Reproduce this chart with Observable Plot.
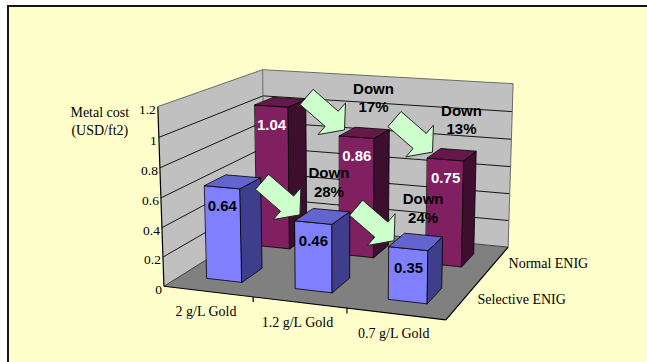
<!DOCTYPE html>
<html>
<head>
<meta charset="utf-8">
<script src="https://cdn.jsdelivr.net/npm/d3@7"></script>
<script src="https://cdn.jsdelivr.net/npm/@observablehq/plot@0.6"></script>
<style>
  html, body { margin: 0; padding: 0; background: #ffffff; }
  #stage { position: relative; width: 647px; height: 362px; overflow: hidden; }
  #panel { position: absolute; left: 7px; top: 5px; width: 700px; height: 420px;
           background: #FFFFCC; border: 2px solid #161616; box-sizing: border-box; }
  #chart { position: absolute; left: 0; top: 0; }
</style>
</head>
<body>
<div id="stage"><div id="panel"></div><div id="chart"></div></div>
<script>
// ---- data -------------------------------------------------------------
const categories = ["2 g/L Gold", "1.2 g/L Gold", "0.7 g/L Gold"];
const seriesNames = ["Selective ENIG", "Normal ENIG"];   // front row, back row
const selectiveENIG = [0.64, 0.46, 0.35];
const normalENIG = [1.04, 0.86, 0.75];
const valueTicks = [0, 0.2, 0.4, 0.6, 0.8, 1, 1.2];
const axisTitle = "Metal cost\n(USD/ft2)";

const rows = [selectiveENIG, normalENIG];
const vMax = valueTicks[valueTicks.length - 1];
const nC = categories.length, nS = seriesNames.length;

// ---- 3-D view: rotation / elevation / perspective camera ---------------
const view = {
  rotation: 20, elevation: 13.5, distance: 1300, focal: 1300,
  boxWidth: 282, boxDepth: 245, boxHeight: 176,
  originX: 344, originY: 181
};
const W = 647, H = 362;
const rad = Math.PI / 180;
const sr = Math.sin(view.rotation * rad), cr = Math.cos(view.rotation * rad);
const se = Math.sin(view.elevation * rad), ce = Math.cos(view.elevation * rad);
const eye = [view.distance * sr * ce, view.distance * se, -view.distance * cr * ce];
const camRight = [cr, 0, sr];
const camUp = [-se * sr, ce, se * cr];
const camFwd = [-sr * ce, -se, cr * ce];
const dot = (a, b) => a[0] * b[0] + a[1] * b[1] + a[2] * b[2];

// c: category position [0, nC], s: series depth [0, nS], v: value [0, vMax]
function project(c, s, v) {
  const p = [
    (c / nC - 0.5) * view.boxWidth - eye[0],
    (v / vMax - 0.5) * view.boxHeight - eye[1],
    (s / nS - 0.5) * view.boxDepth - eye[2]
  ];
  const z = dot(p, camFwd);
  return [view.focal * dot(p, camRight) / z, view.focal * dot(p, camUp) / z];
}

// ---- geometry built from the data ---------------------------------------
const polys = [];
function face(id, corners, fill, stroke) {
  for (const [c, s, v] of corners) {
    const [x, y] = project(c, s, v);
    polys.push({id, x, y, fill, stroke});
  }
}

// walls and floor
const walls = [];
function wall(id, corners, fill) {
  for (const [c, s, v] of corners) {
    const [x, y] = project(c, s, v);
    walls.push({id, x, y, fill});
  }
}
wall("left", [[0, 0, 0], [0, nS, 0], [0, nS, vMax], [0, 0, vMax]], "#C0C0C0");
wall("back", [[0, nS, 0], [nC, nS, 0], [nC, nS, vMax], [0, nS, vMax]], "#C0C0C0");
wall("floor", [[0, 0, 0], [nC, 0, 0], [nC, nS, 0], [0, nS, 0]], "#808080");

const seg = (a, b, stroke, w) => {
  const [x1, y1] = project(...a), [x2, y2] = project(...b);
  return {x1, y1, x2, y2, stroke, w};
};
const lines = [];
for (const t of valueTicks.slice(1, -1)) {
  lines.push(seg([0, 0, t], [0, nS, t], "#000", 0.9));
  lines.push(seg([0, nS, t], [nC, nS, t], "#000", 0.9));
}
// wall outlines
lines.push(seg([0, 0, vMax], [0, nS, vMax], "#6b6b6b", 1));
lines.push(seg([0, nS, vMax], [nC, nS, vMax], "#6b6b6b", 1));
lines.push(seg([nC, nS, 0], [nC, nS, vMax], "#6b6b6b", 1));
lines.push(seg([0, nS, 0], [0, nS, vMax], "#6b6b6b", 1));
lines.push(seg([0, 0, 0], [0, nS, 0], "#404040", 1));
lines.push(seg([0, nS, 0], [nC, nS, 0], "#404040", 1));
// axes
const axes = [];
axes.push(seg([0, 0, 0], [0, 0, vMax], "#000", 1.2));
axes.push(seg([0, 0, 0], [nC, 0, 0], "#000", 1.2));
axes.push(seg([nC, 0, 0], [nC, nS, 0], "#000", 1.2));
for (let i = 1; i < nC; ++i) axes.push(seg([i, 0, 0], [i, 0, -0.035], "#000", 1));

// bars: back row first, left to right, so nearer boxes paint over farther ones
const palette = [
  {front: "#8080FF", top: "#6464CE", side: "#3E3E8C"},
  {front: "#802060", top: "#66184C", side: "#3E0E2E"}
];
const gap = 0.3;  // each side of a bar within its slot (bar = 40% of slot)
for (const s of [1, 0]) {
  rows[s].forEach((v, i) => {
    const x0 = i + gap, x1 = i + 1 - gap, z0 = s + gap, z1 = s + 1 - gap;
    const col = palette[s];
    face(`f${s}${i}`, [[x0, z0, 0], [x1, z0, 0], [x1, z0, v], [x0, z0, v]], col.front, "#000");
    face(`t${s}${i}`, [[x0, z0, v], [x1, z0, v], [x1, z1, v], [x0, z1, v]], col.top, "#000");
    face(`r${s}${i}`, [[x1, z0, 0], [x1, z1, 0], [x1, z1, v], [x1, z0, v]], col.side, "#000");
  });
}

// value labels on the bar fronts
const valueLabels = [];
rows.forEach((row, s) => row.forEach((v, i) => {
  const [x, y] = project(i + 0.5, s + gap, v);
  valueLabels.push({x, y, text: d3.format(".2f")(v), fill: s === 1 ? "#ffffff" : "#000000"});
}));

// "Down n%" arrows from each bar to the next one in the same row
const arrows = [], notes = [];
const arrowLen = 50, arrowAngle = 41 * rad, shaftHalf = 10, headHalf = 21, headLen = 17;
rows.forEach((row, s) => {
  for (let i = 0; i + 1 < row.length; ++i) {
    const [tx, ty] = project(i + 1 + gap, s + gap, row[i + 1]);
    const tip = [tx + 5, ty + 6];                 // image plane, y up
    const d = [Math.cos(arrowAngle), -Math.sin(arrowAngle)];
    const n = [-d[1], d[0]];
    const tail = [tip[0] - d[0] * arrowLen, tip[1] - d[1] * arrowLen];
    const base = [tip[0] - d[0] * headLen, tip[1] - d[1] * headLen];
    const at = (p, k) => [p[0] + n[0] * k, p[1] + n[1] * k];
    const pts = [at(tail, shaftHalf), at(base, shaftHalf), at(base, headHalf), tip,
                 at(base, -headHalf), at(base, -shaftHalf), at(tail, -shaftHalf)];
    pts.forEach(([x, y]) => arrows.push({id: `a${s}${i}`, x, y}));
    const pct = Math.round((1 - row[i + 1] / row[i]) * 100);
    notes.push({x: tip[0] + 29, y: tip[1] + 33, text: `Down\n${pct}%`});
  }
});

// axis labels
const tickLabels = valueTicks.map(t => {
  const [x, y] = project(0, 0, t);
  return {x, y, text: String(t)};
});
const catLabels = categories.map((name, i) => {
  const [x, y] = project(i + 0.5, 0, 0);
  return {x, y, text: name};
});
const serLabels = seriesNames.map((name, s) => {
  const [x, y] = project(nC, s + 0.5, 0);
  return {x, y, text: name};
});
const [tx0, ty0] = project(0, 0, vMax);
const titleLabel = [{x: tx0, y: ty0, text: axisTitle}];

const serif = "'Liberation Serif', 'Times New Roman', serif";
const sans = "'Liberation Sans', Arial, sans-serif";

const chart = Plot.plot({
  width: W, height: H, margin: 0,
  x: {domain: [-view.originX, W - view.originX], range: [0, W], axis: null},
  y: {domain: [view.originY - H, view.originY], range: [H, 0], axis: null},
  color: {type: "identity"},
  style: {background: "transparent", overflow: "visible"},
  marks: [
    Plot.line(walls, {x: "x", y: "y", z: "id", fill: "fill", stroke: "none", curve: "linear-closed"}),
    Plot.link(lines, {x1: "x1", y1: "y1", x2: "x2", y2: "y2", stroke: "stroke", strokeWidth: "w"}),
    Plot.link(axes, {x1: "x1", y1: "y1", x2: "x2", y2: "y2", stroke: "stroke", strokeWidth: 1.2}),
    Plot.line(polys, {x: "x", y: "y", z: "id", fill: "fill", stroke: "stroke", strokeWidth: 0.8, strokeLinejoin: "round", curve: "linear-closed"}),
    Plot.text(valueLabels, {x: "x", y: "y", text: "text", fill: "fill", dy: 19, fontSize: 15, fontWeight: "bold", fontFamily: sans}),
    Plot.line(arrows, {x: "x", y: "y", z: "id", fill: "#CCFFCC", stroke: "#222", strokeWidth: 1, curve: "linear-closed"}),
    Plot.text(notes, {x: "x", y: "y", text: "text", fill: "#000", fontSize: 15, fontWeight: "bold", fontFamily: sans, lineHeight: 1.25}),
    Plot.text(tickLabels, {x: "x", y: "y", text: "text", textAnchor: "end", dx: -2, dy: 3, fontSize: 13.5, fontFamily: serif, fill: "#000"}),
    Plot.text(catLabels, {x: "x", y: "y", text: "text", dx: -2, dy: 20, fontSize: 14, fontFamily: serif, fill: "#000"}),
    Plot.text(serLabels, {x: "x", y: "y", text: "text", textAnchor: "start", dx: 14, dy: 0, fontSize: 14, fontFamily: serif, fill: "#000"}),
    Plot.text(titleLabel, {x: "x", y: "y", text: "text", dx: -58, dy: 14, fontSize: 14, fontFamily: serif, fill: "#000", lineHeight: 1.28})
  ]
});
document.getElementById("chart").appendChild(chart);
</script>
</body>
</html>
